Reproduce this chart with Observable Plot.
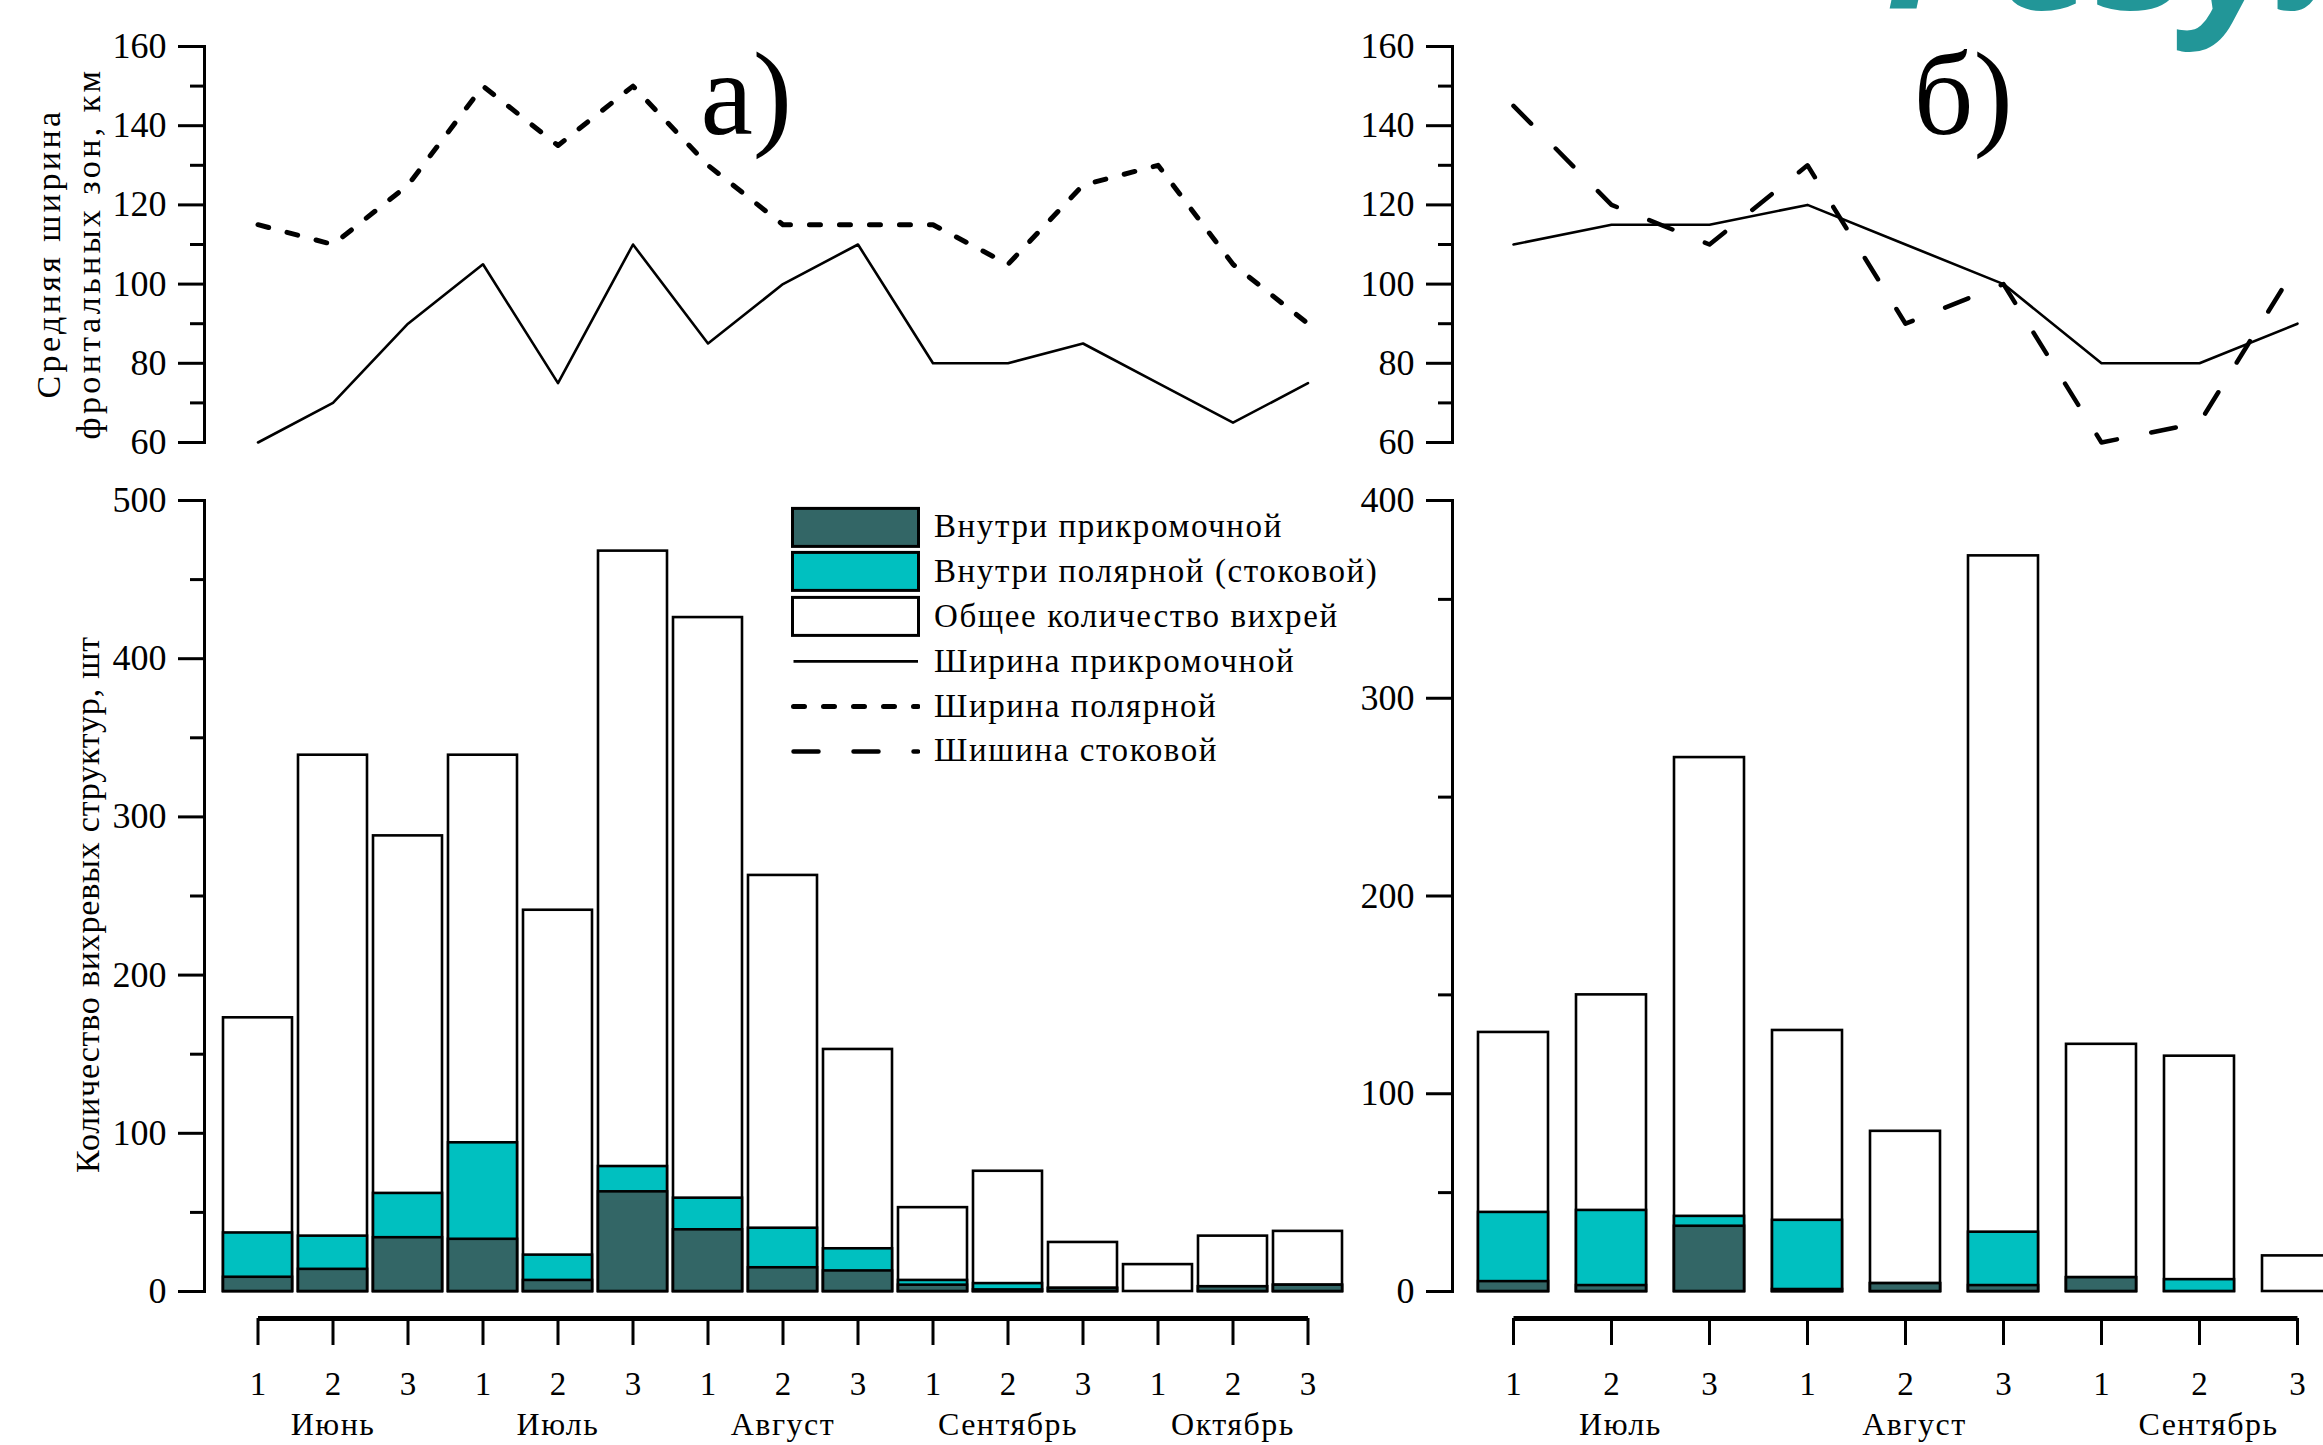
<!DOCTYPE html>
<html><head><meta charset="utf-8">
<script src="https://cdn.jsdelivr.net/npm/d3@7"></script>
<script src="https://cdn.jsdelivr.net/npm/@observablehq/plot@0.6"></script>
<style>
html,body{margin:0;padding:0;background:#fff;}
#page{position:relative;width:2323px;height:1445px;overflow:hidden;background:#fff;font-family:"Liberation Serif",serif;}
.panel{position:absolute;}
.panel svg{max-width:none !important;display:block;}
text[aria-label="ylabel"]{letter-spacing:3.4px;}
text[aria-label="ylabel2"]{letter-spacing:0.8px;}
text[aria-label="month"]{letter-spacing:1.5px;}
#legend{position:absolute;left:791px;top:504.6px;font-family:"Liberation Serif",serif;font-size:33px;letter-spacing:1.6px;color:#000;}
#legend .row{display:flex;align-items:center;height:44.8px;white-space:nowrap;}
#legend svg{flex:none;margin-right:14px;}
</style></head><body><div id="page"></div>
<script>
// ---------- data ----------
const monthsA = ["Июнь","Июль","Август","Сентябрь","Октябрь"];
const monthsB = ["Июль","Август","Сентябрь"];
const decades = ["1","2","3"];

// panel а: widths of frontal zones (km)
const widthMarginalA = [60,70,90,105,75,110,85,100,110,80,80,85,75,65,75];
const widthPolarA    = [115,110,125,150,135,150,130,115,115,115,105,125,130,105,90];
// panel а: eddy counts
const totalA    = [173,339,288,339,241,468,426,263,153,53,76,31,17,35,38];
const polarA    = [37,35,62,94,23,79,59,40,27,7,5,2,0,3,4];
const marginalA = [9,14,34,33,7,63,39,15,13,4,1,2,0,3,4];

// panel б: widths of frontal zones (km)
const widthMarginalB = [110,115,115,120,110,100,80,80,90];
const widthStockB    = [145,120,110,130,90,100,60,65,105];
// panel б: eddy counts
const totalB    = [131,150,270,132,81,372,125,119,18];
const stockB    = [40,41,38,36,4,30,7,6,0];
const marginalB = [5,3,33,1,4,3,7,0,0];

const legendLabels = ["Внутри прикромочной","Внутри полярной (стоковой)","Общее количество вихрей","Ширина прикромочной","Ширина полярной","Шишина стоковой"];
const yLabelTop = "Средняя ширина\nфронтальных зон, км";
const yLabelBottom = "Количество вихревых структур, шт";
const panelLabels = ["а)","б)"];
const titleText = "Результаты";

// ---------- styles ----------
const C_DARK = "#336666", C_CYAN = "#00C0C0";
const FONT = "Liberation Serif";
const SOLID = {stroke:"black", strokeWidth:2.6, strokeLinejoin:"round"};
const DASH_POLAR = {stroke:"black", strokeWidth:5, strokeDasharray:"11,19", strokeLinecap:"round", strokeLinejoin:"round"};
const DASH_STOCK = {stroke:"black", strokeWidth:4.5, strokeDasharray:"25,35", strokeLinecap:"round", strokeLinejoin:"round"};
const baseStyle = {background:"transparent", fontFamily:FONT, color:"black", overflow:"visible"};

const cats = months => months.flatMap(m => decades.map(d => m + " " + d));
const catsA = cats(monthsA), catsB = cats(monthsB);
const rowsA = catsA.map((c,i)=>({c, wm:widthMarginalA[i], wp:widthPolarA[i], total:totalA[i], inner2:polarA[i], inner1:marginalA[i]}));
const rowsB = catsB.map((c,i)=>({c, wm:widthMarginalB[i], wp:widthStockB[i], total:totalB[i], inner2:stockB[i], inner1:marginalB[i]}));

const page = document.getElementById("page");
function place(node, left, top){
  const d = document.createElement("div");
  d.className = "panel"; d.style.left = left+"px"; d.style.top = top+"px";
  d.appendChild(node); page.appendChild(d);
}

// title (cut off at top, as in the reference)
const tsvg = d3.create("svg").attr("width",2323).attr("height",60);
tsvg.append("text").attr("x",1885).attr("y",9).attr("font-family","Open Sans").attr("font-weight",700)
  .attr("font-style","italic").attr("font-size",180).attr("fill","#229698").text(titleText);
place(tsvg.node(),0,0);

function topPlot(rows, xs, width, mLeft, dashed, label, labelDx, withYLabel){
  const marks = [
    Plot.frame({anchor:"left", strokeWidth:3}),
    Plot.axisY({ticks:d3.range(60,161,20), tickSize:26, tickPadding:12, fontSize:36, strokeWidth:3, label:null}),
    Plot.axisY({ticks:d3.range(70,160,20), tickSize:14, text:null, strokeWidth:3, label:null}),
    Plot.line(rows, {x:"c", y:"wm", ...SOLID}),
    Plot.line(rows, {x:"c", y:"wp", ...dashed}),
    Plot.text([label], {text:d=>d, frameAnchor:"top-left", textAnchor:"start", lineAnchor:"bottom", dx:labelDx, dy:87, fontSize:118})
  ];
  if (withYLabel) marks.push(Plot.text([yLabelTop], {text:d=>d, frameAnchor:"left", textAnchor:"middle", rotate:-90, dx:-137, dy:9, fontSize:34, lineHeight:1.18, ariaLabel:()=>"ylabel"}));
  return Plot.plot({width, height:480, marginLeft:mLeft, marginTop:46, marginBottom:38, marginRight:0,
    style:baseStyle, x:{...xs, axis:null}, y:{domain:[60,160]}, marks});
}

function bottomPlot(rows, xs, width, mLeft, yMax, months, monthDx, withYLabel){
  const marks = [
    Plot.frame({anchor:"left", strokeWidth:3}),
    Plot.axisY({ticks:d3.range(0,yMax+1,100), tickSize:26, tickPadding:12, fontSize:36, strokeWidth:3, label:null}),
    Plot.axisY({ticks:d3.range(50,yMax,100), tickSize:14, text:null, strokeWidth:3, label:null}),
    Plot.barY(rows, {x:"c", y:"total", fill:"white", stroke:"black", strokeWidth:2.6}),
    Plot.barY(rows, {x:"c", y:"inner2", fill:C_CYAN, stroke:"black", strokeWidth:2.6}),
    Plot.barY(rows, {x:"c", y:"inner1", fill:C_DARK, stroke:"black", strokeWidth:2.6}),
    Plot.link([{a:rows[0].c, b:rows[rows.length-1].c}], {x1:"a", x2:"b", y1:()=>0, y2:()=>0, dy:27, strokeWidth:5}),
    Plot.axisX({tickSize:27, dy:27, tickPadding:26, fontSize:33, strokeWidth:3, tickFormat:c=>c.split(" ")[1], label:null}),
    Plot.text(months, {x:m=>m+" 2", text:d=>d, frameAnchor:"bottom", dx:monthDx, dy:143, fontSize:32, ariaLabel:()=>"month"})
  ];
  if (withYLabel) marks.push(Plot.text([yLabelBottom], {text:d=>d, frameAnchor:"left", textAnchor:"middle", rotate:-90, dx:-116, dy:8.5, fontSize:34, ariaLabel:()=>"ylabel2"}));
  return Plot.plot({width, height:965, marginLeft:mLeft, marginTop:20, marginBottom:154, marginRight:0,
    style:baseStyle, x:xs, y:{domain:[0,yMax]}, marks});
}

const xA = {type:"band", domain:catsA, range:[218.43,1345.57], paddingInner:0.0818, paddingOuter:0.0409, align:0.5};
const xB = {type:"band", domain:catsB, range:[120.7,1008.1], paddingInner:0.29, paddingOuter:0.145, align:0.5};

place(topPlot(rowsA, xA, 1340, 204, DASH_POLAR, panelLabels[0], 496, true), 0, 0);
place(bottomPlot(rowsA, xA, 1340, 204, 500, monthsA, 0, true), 0, 480);
place(topPlot(rowsB, xB, 1010, 112, DASH_STOCK, panelLabels[1], 461, false), 1340, 0);
place(bottomPlot(rowsB, xB, 1010, 112, 400, monthsB, 9, false), 1340, 480);

// legend
const swatches = [
  {type:"box", fill:C_DARK}, {type:"box", fill:C_CYAN}, {type:"box", fill:"white"},
  {type:"line", s:SOLID}, {type:"line", s:DASH_POLAR}, {type:"line", s:DASH_STOCK}
];
const legend = document.createElement("div"); legend.id = "legend";
legendLabels.forEach((lab,i)=>{
  const row = document.createElement("div"); row.className = "row";
  const sw = swatches[i];
  const s = d3.create("svg").attr("width",129).attr("height",44.8);
  if (sw.type==="box") s.append("rect").attr("x",1.5).attr("y",3.4).attr("width",126).attr("height",38).attr("fill",sw.fill).attr("stroke","black").attr("stroke-width",3);
  else s.append("line").attr("x1",2.5).attr("x2",127).attr("y1",22.4).attr("y2",22.4)
        .attr("stroke","black").attr("stroke-width",sw.s.strokeWidth)
        .attr("stroke-dasharray",sw.s.strokeDasharray||null).attr("stroke-linecap",sw.s.strokeLinecap||"butt");
  row.appendChild(s.node());
  const t = document.createElement("span"); t.textContent = lab; row.appendChild(t);
  legend.appendChild(row);
});
page.appendChild(legend);
</script>
</body></html>
